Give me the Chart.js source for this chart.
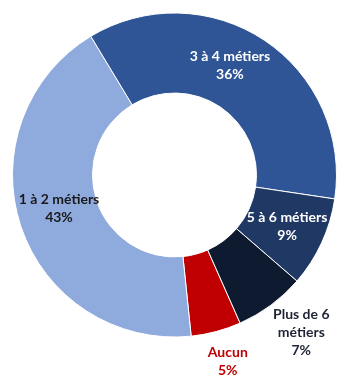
<!DOCTYPE html>
<html>
<head>
<meta charset="utf-8">
<script src="https://cdn.jsdelivr.net/npm/chart.js@4/dist/chart.umd.min.js"></script>
<style>
html,body{margin:0;padding:0;background:#fff;}
#wrap{width:351px;height:384px;position:relative;}
</style>
</head>
<body>
<div id="wrap"><canvas id="c"></canvas></div>
<script>
// Data
const categories = ["Aucun", "1 à 2 métiers", "3 à 4 métiers", "5 à 6 métiers", "Plus de 6 métiers"];
const values = [5, 43, 36, 9, 7];
const labelLines = [["Aucun", "5%"], ["1 à 2 métiers", "43%"], ["3 à 4 métiers", "36%"], ["5 à 6 métiers", "9%"], ["Plus de 6", "métiers", "7%"]];

// Styles
const colors = ["#C00000", "#8FAADC", "#2F5597", "#203864", "#0D1A30"];
const textColors = ["#C00000", "#1a1a1a", "#ffffff", "#ffffff", "#1F2535"];
// placement within slice: t = fraction along the slice angle, r = fraction of outer radius
const placement = [{t:0.44, r:1.195}, {t:0.514, r:0.743}, {t:0.448, r:0.755}, {t:0.50, r:0.765}, {t:0.41, r:1.25}];

const labelPlugin = {
  id: 'sliceLabels',
  afterDatasetsDraw(chart) {
    const ctx = chart.ctx;
    const meta = chart.getDatasetMeta(0);
    ctx.save();
    ctx.font = "bold 14px Lato, 'Liberation Sans', sans-serif";
    ctx.textAlign = 'center';
    ctx.textBaseline = 'middle';
    const lh = 18;
    meta.data.forEach((arc, i) => {
      const p = arc.getProps(['x','y','startAngle','endAngle','outerRadius'], true);
      const a = p.startAngle + (p.endAngle - p.startAngle) * placement[i].t;
      const r = p.outerRadius * placement[i].r;
      const cx = p.x + Math.cos(a) * r;
      const cy = p.y + Math.sin(a) * r;
      const lines = labelLines[i];
      ctx.fillStyle = textColors[i];
      lines.forEach((ln, k) => {
        ctx.fillText(ln, cx, cy + (k - (lines.length - 1) / 2) * lh);
      });
    });
    ctx.restore();
  }
};

new Chart(document.getElementById('c'), {
  type: 'doughnut',
  data: {
    labels: categories,
    datasets: [{
      data: values,
      backgroundColor: colors,
      borderColor: '#ffffff',
      borderWidth: 1
    }]
  },
  options: {
    responsive: true,
    maintainAspectRatio: false,
    animation: false,
    rotation: 156.1,
    cutout: '50.6%',
    layout: { padding: { left: 12, right: 14, top: 12.5, bottom: 46.5 } },
    plugins: { legend: { display: false }, tooltip: { enabled: false } }
  },
  plugins: [labelPlugin]
});
</script>
</body>
</html>
